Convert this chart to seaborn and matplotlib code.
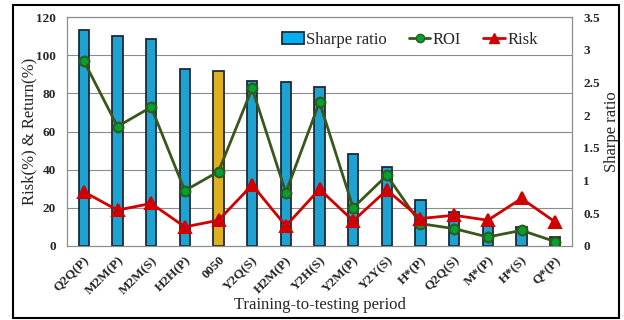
import matplotlib
matplotlib.use('Agg')
import matplotlib.pyplot as plt
import seaborn as sns
from matplotlib.patches import Patch, Rectangle
from matplotlib.lines import Line2D

periods = ['Q2Q(P)', 'M2M(P)', 'M2M(S)', 'H2H(P)', '0050', 'Y2Q(S)', 'H2M(P)', 'Y2H(S)',
           'Y2M(P)', 'Y2Y(S)', 'H*(P)', 'Q2Q(S)', 'M*(P)', 'H*(S)', 'Q*(P)']
sharpe = [3.30, 3.21, 3.16, 2.70, 2.67, 2.52, 2.50, 2.43, 1.41, 1.21, 0.71, 0.52, 0.31, 0.29, 0.14]
roi = [97, 62.6, 72.8, 29, 39, 82.6, 28, 75.4, 20, 37, 11.7, 9.1, 4.7, 8.2, 2.3]
risk = [28.4, 18.8, 22.3, 10, 13.5, 32, 10.5, 29.8, 13.2, 29.3, 14.4, 16.1, 13.5, 24.9, 12.6]

left_ticks = [0, 20, 40, 60, 80, 100, 120]
right_ticks = [0, 0.5, 1, 1.5, 2, 2.5, 3, 3.5]
right_tick_labels = ['0', '0.5', '1', '1.5', '2', '2.5', '3', '3.5']

sns.set_style('white')
plt.rcParams['font.family'] = ['Liberation Serif', 'DejaVu Serif']

bar_blue = '#00B0F0'
bar_orange = '#FFC000'
bar_colors = [bar_orange if p == '0050' else bar_blue for p in periods]

fig = plt.figure(figsize=(6.24, 3.2), dpi=100)
ax = fig.add_axes([67 / 624, 1 - 246 / 320, (572 - 67) / 624, (246 - 17) / 320])
ax2 = ax.twinx()

# bars live on the Sharpe axis, drawn underneath the ROI / Risk lines
ax2.set_zorder(ax.get_zorder() - 1)
ax.patch.set_visible(False)
ax2.patch.set_facecolor('white')

for v in left_ticks[1:]:
    ax2.axhline(v * 3.5 / 120, color='#8c8c8c', lw=0.8, zorder=0)

sns.barplot(x=periods, y=sharpe, hue=periods, palette=bar_colors, legend=False,
            width=0.3, edgecolor='#1a2a3a', linewidth=1.3, ax=ax2, zorder=2)

sns.pointplot(x=periods, y=roi, color='#38571a', markers='o', linestyles='-',
              markersize=7, linewidth=2, ax=ax,
              markerfacecolor='#00a032', markeredgecolor='#2f5a1a', markeredgewidth=1.5)
sns.pointplot(x=periods, y=risk, color='#d00000', markers='^', linestyles='-',
              markersize=9, linewidth=2, ax=ax)

ax.set_ylim(0, 120)
ax.set_yticks(left_ticks)
ax2.set_ylim(0, 3.5)
ax2.set_yticks(right_ticks)
ax2.set_yticklabels(right_tick_labels)
ax.set_xlim(-0.5, len(periods) - 0.5)

for a in (ax, ax2):
    for s in a.spines.values():
        s.set_color('#8c8c8c')
        s.set_linewidth(0.8)
    a.tick_params(length=0, labelsize=9.5, pad=8)
    for lbl in a.get_yticklabels():
        lbl.set_fontweight('bold')

ax.set_xticks(range(len(periods)))
ax.set_xticklabels(periods, rotation=45, ha='right', rotation_mode='anchor',
                   fontweight='bold', fontsize=9.5)
ax2.tick_params(axis='x', labelbottom=False)
ax.tick_params(axis='x', pad=6)

ax.set_ylabel('Risk(%) & Return(%)', fontsize=12, labelpad=-1)
ax2.set_ylabel('Sharpe ratio', fontsize=12, labelpad=3)
ax.set_xlabel('Training-to-testing period', fontsize=12, labelpad=0)
ax2.set_xlabel('')

handles = [
    Patch(facecolor=bar_blue, edgecolor='#1a2a3a', linewidth=1.3, label='Sharpe ratio'),
    Line2D([], [], color='#38571a', lw=2, marker='o', markersize=6,
           markerfacecolor='#00a032', markeredgecolor='#2f5a1a', label='ROI'),
    Line2D([], [], color='#d00000', lw=2, marker='^', markersize=7, label='Risk'),
]
ax.legend(handles=handles, loc='upper right', ncol=3, fontsize=12,
          frameon=True, fancybox=False, edgecolor='none', framealpha=1,
          bbox_to_anchor=(0.955, 0.985), handlelength=1.3, handletextpad=0.15,
          columnspacing=1.3, borderpad=0.2)

fig.patches.append(Rectangle((13 / 624, 1 - 318 / 320), (619 - 13) / 624, (318 - 5) / 320,
                             transform=fig.transFigure, fill=False, edgecolor='black', lw=1.5))

fig.savefig('out.png', dpi=100)
